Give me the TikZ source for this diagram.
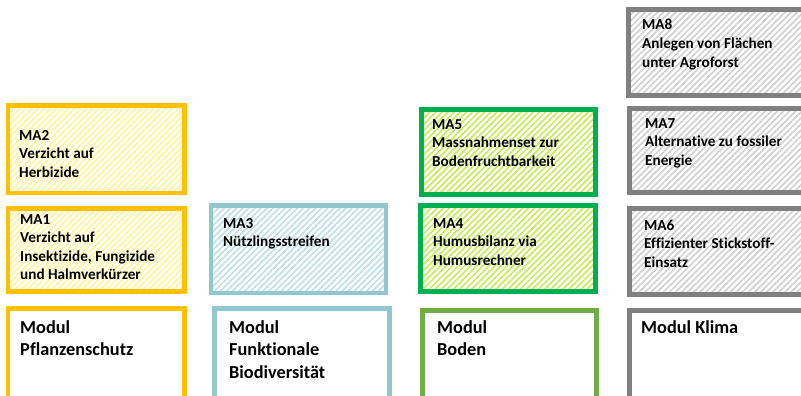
\documentclass[tikz,border=0pt]{standalone}
\usepackage{fontspec}
\setmainfont{Carlito}[Ligatures={NoCommon}]
\usetikzlibrary{patterns.meta}
\definecolor{cyel}{HTML}{FFC000}
\definecolor{cyelh}{HTML}{FFF59A}
\definecolor{cteal}{HTML}{8FC9CE}
\definecolor{ctealh}{HTML}{BFE1E8}
\definecolor{cgrn}{HTML}{00B050}
\definecolor{cgrnh}{HTML}{C8EC5C}
\definecolor{clgrn}{HTML}{70AD47}
\definecolor{cgry}{HTML}{808080}
\definecolor{cgryh}{HTML}{D2D2D2}
\tikzset{
  boxbase/.style={draw, line width=4.8pt, anchor=north west, inner sep=0pt, outer sep=0pt},
  hatchbox/.style={boxbase, draw=#1, pattern={Lines[angle=45,distance=4.3pt,line width=1.7pt]}},
  mabox/.style 2 args={hatchbox=#1, pattern color=#2},
  modbox/.style={boxbase, draw=#1, fill=white},
  matext/.style={anchor=base west, align=left, inner sep=0pt, font=\bfseries\fontsize{15.2}{18.5}\selectfont},
  modtext/.style={anchor=base west, align=left, inner sep=0pt, font=\bfseries\fontsize{18.3}{22.5}\selectfont},
}
\begin{document}
\begin{tikzpicture}[x=1pt,y=-1pt]
\useasboundingbox (0,0) rectangle (801,396);
\clip (0,0) rectangle (801,396);
% column 1: Pflanzenschutz
\node[mabox={cyel}{cyelh}, minimum width=176.5, minimum height=87.5] (ma2) at (8,105.5) {};
\node[mabox={cyel}{cyelh}, minimum width=176.5, minimum height=83] (ma1) at (8,208.5) {};
\node[modbox=cyel, minimum width=176.5, minimum height=95] (m1) at (8,308.5) {};
% column 2: Funktionale Biodiversitaet
\node[mabox={cteal}{ctealh}, minimum width=175, minimum height=87.5] (ma3) at (211,205.5) {};
\node[modbox=cteal, minimum width=175, minimum height=95] (m2) at (214.5,308.5) {};
% column 3: Boden
\node[mabox={cgrn}{cgrnh}, minimum width=174, minimum height=85] (ma5) at (421.5,109.5) {};
\node[mabox={cgrn}{cgrnh}, minimum width=175, minimum height=86] (ma4) at (420.5,205.5) {};
\node[modbox=clgrn, minimum width=174, minimum height=95] (m3) at (422.5,310.5) {};
% column 4: Klima
\node[mabox={cgry}{cgryh}, minimum width=190, minimum height=86] (ma8) at (628.5,9.5) {};
\node[mabox={cgry}{cgryh}, minimum width=190, minimum height=84] (ma7) at (629.5,108.5) {};
\node[mabox={cgry}{cgryh}, minimum width=190, minimum height=86] (ma6) at (629.5,208.5) {};
\node[modbox=cgry, minimum width=190, minimum height=95] (m4) at (629.5,310.5) {};
% texts (positioned at the baseline of the last line)
\node[matext] (t2) at (19,177) {MA2\\Verzicht auf\\Herbizide};
\node[matext] (t1) at (20,279.5) {MA1\\Verzicht auf\\Insektizide, Fungizide\\und Halmverkürzer};
\node[modtext] (tm1) at (20,355.5) {Modul\\Pflanzenschutz};
\node[matext] (t3) at (223,246.5) {MA3\\Nützlingsstreifen};
\node[modtext] (tm2) at (229,378) {Modul\\Funktionale\\Biodiversität};
\node[matext] (t5) at (432,166) {MA5\\Massnahmenset zur\\Bodenfruchtbarkeit};
\node[matext] (t4) at (433,265) {MA4\\Humusbilanz via\\Humusrechner};
\node[modtext] (tm3) at (437,355.5) {Modul\\Boden};
\node[matext] (t8) at (642,67) {MA8\\Anlegen von Flächen\\unter Agroforst};
\node[matext] (t7) at (645,165) {MA7\\Alternative zu fossiler\\Energie};
\node[matext] (t6) at (644,267) {MA6\\Effizienter Stickstoff-\\Einsatz};
\node[modtext] (tm4) at (641,333) {Modul Klima};
\end{tikzpicture}
\end{document}
